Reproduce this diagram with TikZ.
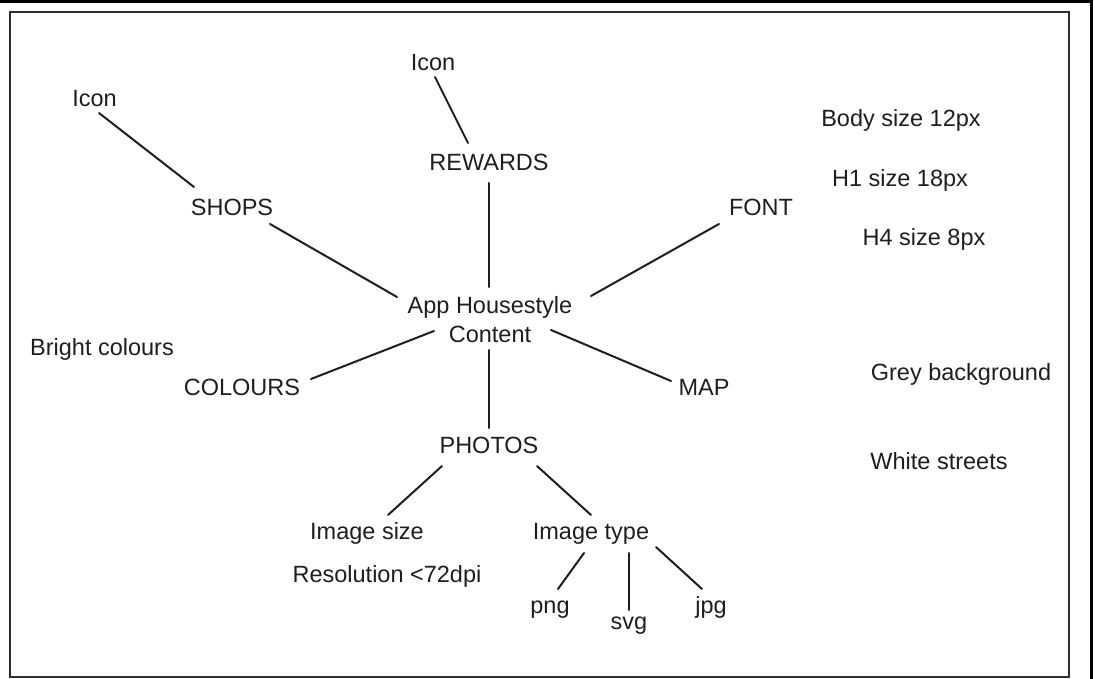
\documentclass[tikz,border=0pt]{standalone}
\usepackage{fontspec}
\setmainfont{Liberation Sans}
\usetikzlibrary{calc}
\definecolor{ink}{HTML}{1E1E1E}
\definecolor{framegrey}{HTML}{2E2E2E}
\begin{document}
\begin{tikzpicture}[x=1pt,y=-1pt,
  lbl/.style={anchor=base, inner sep=0pt, font=\fontsize{23.5}{29}\selectfont, text=ink},
  link/.style={line width=2pt, draw=ink, line cap=round}]
\useasboundingbox (0,0) rectangle (1095,679);
% frames
\draw[line width=3pt, black] (0,2) -- (1091,2) -- (1091,679);
\draw[line width=2.5pt, framegrey] (10,12) rectangle (1069,677);
% nodes
\node[lbl] (icA) at (94.5,107) {Icon};
\node[lbl] (icB) at (433,71) {Icon};
\node[lbl] (rew) at (489,171) {REWARDS};
\node[lbl] (shops) at (232,216) {SHOPS};
\node[lbl] (font) at (761,216) {FONT};
\node[lbl] (body) at (901,127) {Body size 12px};
\node[lbl] (h1) at (900,187) {H1 size 18px};
\node[lbl] (h4) at (924,246) {H4 size 8px};
\node[lbl, align=center] (app) at (490,342) {App Housestyle\\Content};
\node[lbl] (bright) at (102,355) {Bright colours};
\node[lbl] (colours) at (242,395) {COLOURS};
\node[lbl] (map) at (704,395) {MAP};
\node[lbl] (grey) at (961,380) {Grey background};
\node[lbl] (photos) at (489,453) {PHOTOS};
\node[lbl] (white) at (939,469) {White streets};
\node[lbl] (imsize) at (367,539) {Image size};
\node[lbl] (imtype) at (591,539) {Image type};
\node[lbl] (res) at (387,582) {Resolution <72dpi};
\node[lbl] (png) at (550,613) {png};
\node[lbl] (svg) at (629,629) {svg};
\node[lbl] (jpg) at (711,613) {jpg};
% connectors
\draw[link] ($(icB.base)+(2,6)$) -- ($(rew.base)+(-21,-28)$);
\draw[link] ($(rew.base)+(0,12)$) -- ($(app.base)+(-1,-55)$);
\draw[link] ($(icA.base)+(4.5,6)$) -- ($(shops.base)+(-38,-29)$);
\draw[link] ($(shops.base)+(38,8)$) -- ($(app.base)+(-93,-45)$);
\draw[link] ($(font.base)+(-42,8)$) -- ($(app.base)+(101,-46)$);
\draw[link] ($(app.base)+(-56,-11)$) -- ($(colours.base)+(69,-16)$);
\draw[link] ($(app.base)+(61,-12)$) -- ($(map.base)+(-33,-14)$);
\draw[link] ($(app.base)+(-1,8)$) -- ($(photos.base)+(0,-25)$);
\draw[link] ($(photos.base)+(-47,13)$) -- ($(imsize.base)+(21,-24)$);
\draw[link] ($(photos.base)+(48,13)$) -- ($(imtype.base)+(0,-24)$);
\draw[link] ($(imtype.base)+(-7,14)$) -- ($(png.base)+(8,-24)$);
\draw[link] ($(imtype.base)+(38,14)$) -- ($(svg.base)+(0,-19)$);
\draw[link] ($(imtype.base)+(65,8)$) -- ($(jpg.base)+(-9,-24)$);
\end{tikzpicture}
\end{document}
